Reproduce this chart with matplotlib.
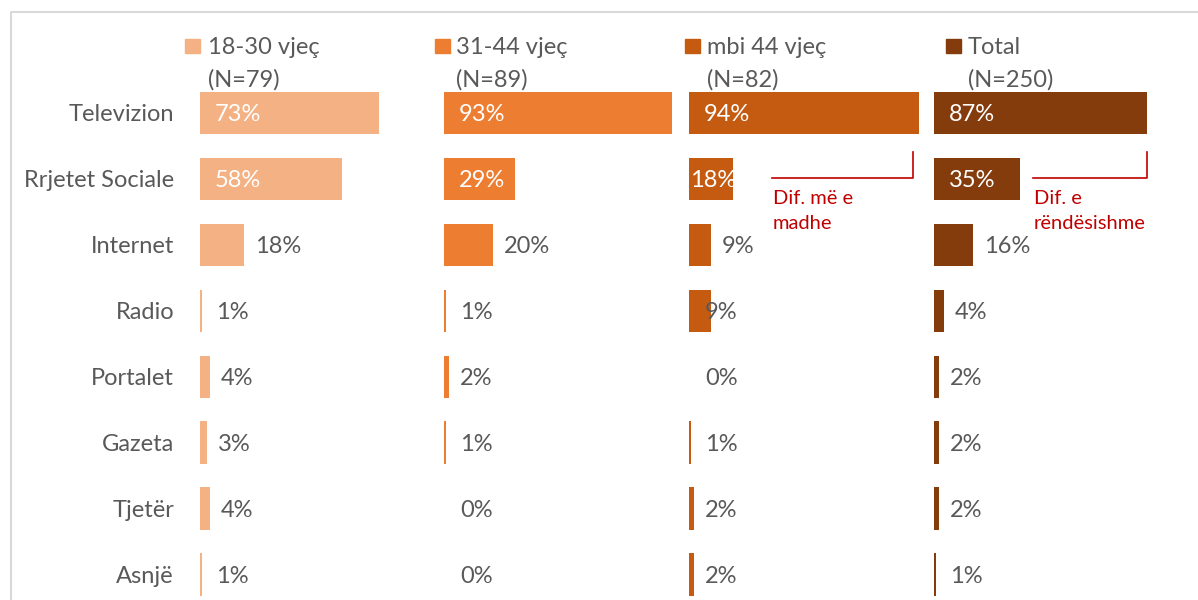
import matplotlib
matplotlib.use("Agg")
import matplotlib.pyplot as plt
from matplotlib.lines import Line2D
from matplotlib.patches import Rectangle

# --- data ---
categories = ["Televizion", "Rrjetet Sociale", "Internet", "Radio",
              "Portalet", "Gazeta", "Tjetër", "Asnjë"]
groups = ["18-30 vjeç", "31-44 vjeç", "mbi 44 vjeç", "Total"]
group_n = ["(N=79)", "(N=89)", "(N=82)", "(N=250)"]
v_18_30 = [73, 58, 18, 1, 4, 3, 4, 1]
v_31_44 = [93, 29, 20, 1, 2, 1, 0, 0]
v_mbi44 = [94, 18, 9, 9, 0, 1, 2, 2]
v_total = [87, 35, 16, 4, 2, 2, 2, 1]
series = [v_18_30, v_31_44, v_mbi44, v_total]

colors = ["#F4B183", "#ED7D31", "#C55A11", "#843C0C"]
GRAY = "#595959"
RED = "#C00000"
FONT = "Lato"

W, H = 1198, 600
fig = plt.figure(figsize=(W / 100, H / 100), dpi=100)

def fx(px):
    return px / W

def fy(py):
    return 1 - py / H

# light frame (chart is cropped on right/bottom)
fig.add_artist(Line2D([fx(11), fx(11), fx(W)], [0, fy(12), fy(12)],
                      color="#D9D9D9", lw=1.5, transform=fig.transFigure))

panel_left = [200, 444, 689, 934]
panel_w = 245
rows = list(range(len(categories)))

# labels that sit at the bar base in the original (label overlaps bar)
base_labels = {(2, 3)}

axes = []
for i, vals in enumerate(series):
    ax = fig.add_axes([fx(panel_left[i]), 0, fx(panel_w), 520 / H])
    ax.barh(rows, vals, height=0.65, color=colors[i])
    ax.set_xlim(0, 100)
    ax.set_ylim(7.38, -0.5)
    ax.axis("off")
    for r, v in zip(rows, vals):
        if r < 2:
            x = 6 if v >= 25 else 0.3
            ax.text(x, r, f"{v}%", color="white", fontsize=17, family=FONT,
                    va="center_baseline", ha="left")
        else:
            x = 6.5 if (i, r) in base_labels else max(6.5, v + 4.3)
            ax.text(x, r, f"{v}%", color=GRAY, fontsize=17, family=FONT,
                    va="center_baseline", ha="left")
    axes.append(ax)

# category labels
for r, c in zip(rows, categories):
    axes[0].text(-10.6, r, c, color=GRAY, fontsize=17, family=FONT,
                 va="center_baseline", ha="right", clip_on=False)

# legend
sq_left = [185, 435, 685, 946]
txt_left = [208, 456, 707, 968]
for i in range(4):
    fig.add_artist(Rectangle((fx(sq_left[i]), fy(53)), fx(15), 14 / H,
                             color=colors[i], transform=fig.transFigure))
    fig.text(fx(txt_left[i]), fy(45), groups[i], color=GRAY, fontsize=17,
             family=FONT, va="center_baseline", ha="left")
    fig.text(fx(txt_left[i]), fy(78), group_n[i], color=GRAY, fontsize=17,
             family=FONT, va="center_baseline", ha="left")

# red brackets + notes
def bracket(x0, x1, note, tx):
    fig.add_artist(Line2D([fx(x0), fx(x1), fx(x1)], [fy(178), fy(178), fy(152)],
                          color=RED, lw=1.2, transform=fig.transFigure))
    fig.text(fx(tx), fy(197), note[0], color=RED, fontsize=14.5, family=FONT,
             va="center_baseline", ha="left")
    fig.text(fx(tx), fy(222), note[1], color=RED, fontsize=14.5, family=FONT,
             va="center_baseline", ha="left")

bracket(772, 913, ["Dif. më e", "madhe"], 773)
bracket(1033, 1147, ["Dif. e", "rëndësishme"], 1034)

fig.savefig("out.png", dpi=100)
